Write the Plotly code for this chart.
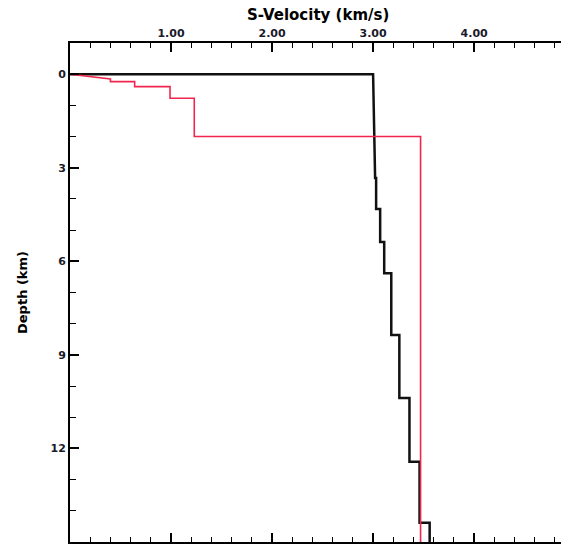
import plotly.graph_objects as go

# Black model: layer top depths (km), S-velocity at layer top and bottom (km/s)
black_tops = [0.0, 3.33, 4.32, 5.38, 6.38, 8.36, 10.38, 12.43, 14.38]
black_vs_top = [3.00, 3.03, 3.07, 3.11, 3.18, 3.26, 3.36, 3.46, 3.56]
black_vs_bot = [3.02, 3.03, 3.07, 3.11, 3.18, 3.26, 3.36, 3.46, 3.56]

# Red model
red_tops = [0.15, 0.24, 0.40, 0.77, 2.0]
red_vs = [0.40, 0.64, 0.99, 1.23, 3.47]

model_bottom = 15.0

x_tickvals = [1, 2, 3, 4]
x_ticktext = ["1.00", "2.00", "3.00", "4.00"]
y_tickvals = [0, 3, 6, 9, 12]
y_ticktext = ["0", "3", "6", "9", "12"]


def step_path(tops, vtop, vbot, bottom, start=(0.0, 0.0)):
    xs, ys = [start[0]], [start[1]]
    for i in range(len(tops)):
        top = tops[i]
        bot = tops[i + 1] if i + 1 < len(tops) else bottom
        xs += [vtop[i], vbot[i]]
        ys += [top, bot]
    return xs, ys


bx, by = step_path(black_tops, black_vs_top, black_vs_bot, model_bottom)
rx, ry = step_path(red_tops, red_vs, red_vs, model_bottom)

fig = go.Figure()
fig.add_trace(go.Scatter(x=bx, y=by, mode="lines",
                         line=dict(color="#111111", width=2.5),
                         showlegend=False, hoverinfo="skip"))
fig.add_trace(go.Scatter(x=rx, y=ry, mode="lines",
                         line=dict(color="#f0264e", width=1.6),
                         showlegend=False, hoverinfo="skip"))

tickfont = dict(family="DejaVu Sans", size=11, color="#1a1a2a", weight="bold")

fig.update_layout(
    width=561, height=545,
    margin=dict(l=70, r=0, t=43, b=3),
    paper_bgcolor="white", plot_bgcolor="white",
    xaxis=dict(
        side="top", range=[0, 4.86], showgrid=False, zeroline=False,
        showline=True, linecolor="black", linewidth=2, mirror="ticks",
        ticks="inside", ticklen=9, tickwidth=1.5, tickcolor="black",
        tickvals=x_tickvals, ticktext=x_ticktext, tickfont=tickfont,
        minor=dict(dtick=0.2, tick0=0, ticks="inside", ticklen=5,
                   tickwidth=1.2, tickcolor="black"),
    ),
    yaxis=dict(
        range=[15, -1], showgrid=False, zeroline=False,
        showline=True, linecolor="black", linewidth=2,
        ticks="inside", ticklen=9, tickwidth=1.5, tickcolor="black",
        tickvals=y_tickvals, ticktext=y_ticktext, tickfont=tickfont,
        minor=dict(dtick=1, tick0=0, ticks="inside", ticklen=6,
                   tickwidth=1.2, tickcolor="black"),
        title=dict(text="Depth (km)", standoff=20,
                   font=dict(family="DejaVu Sans", size=13, color="black", weight="bold")),
    ),
    annotations=[dict(
        text="S-Velocity (km/s)", xref="paper", yref="paper",
        x=0.506, y=1.0, yshift=28, showarrow=False, yanchor="middle",
        font=dict(family="DejaVu Sans", size=15, color="black", weight="bold"),
    )],
)

fig.write_html("out.html")
